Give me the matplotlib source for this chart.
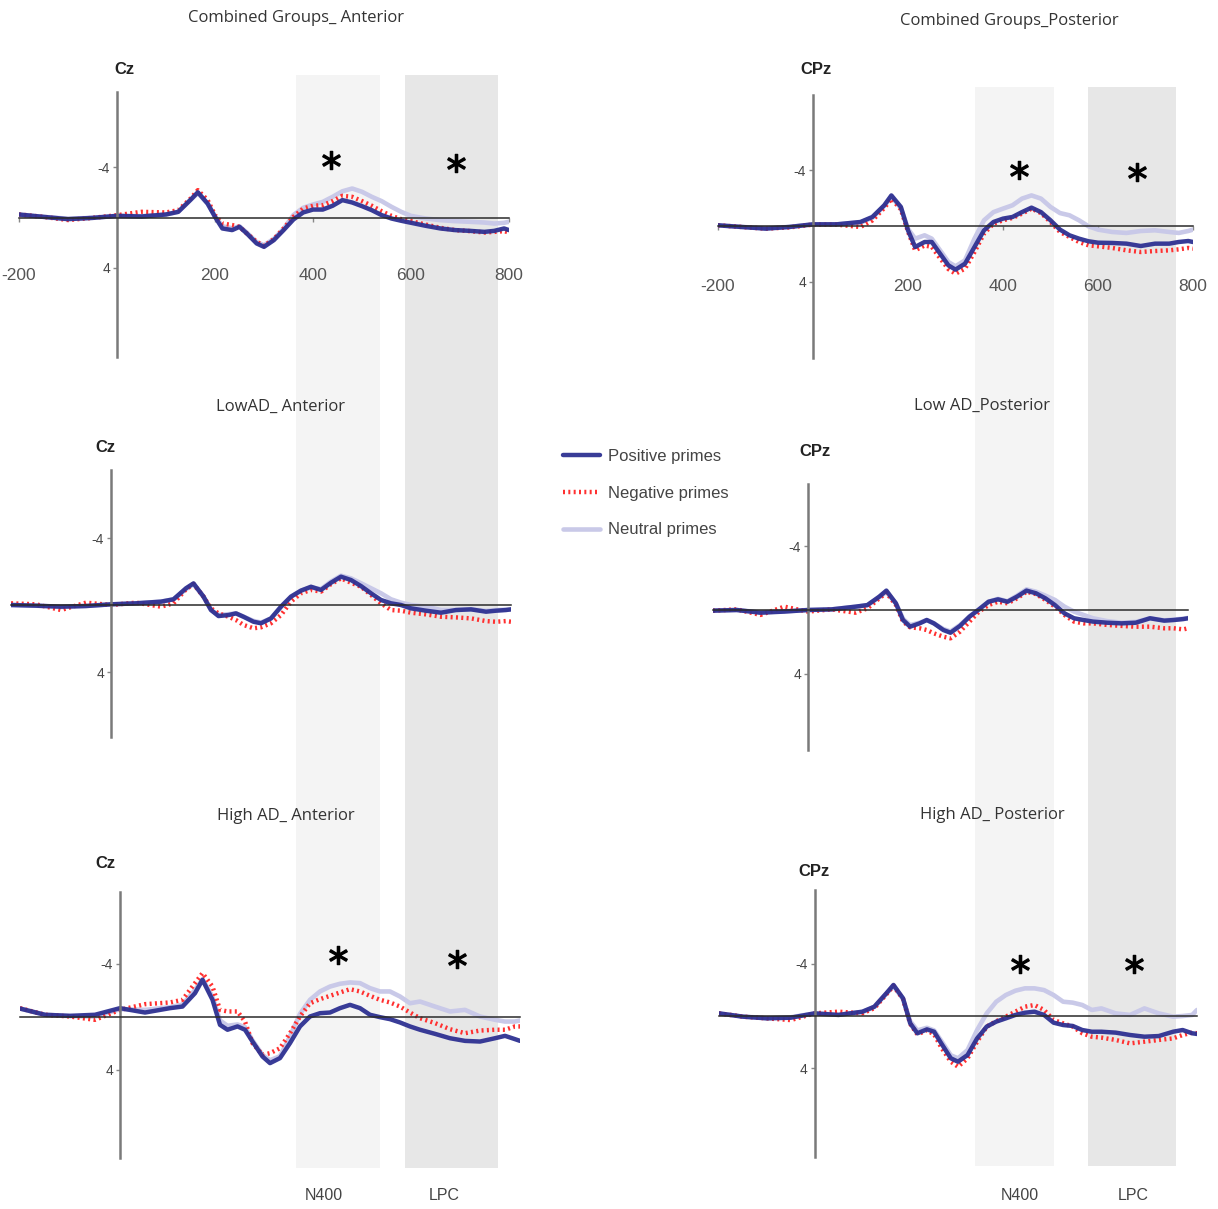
import matplotlib
matplotlib.use('Agg')
from matplotlib import pyplot as plt

# time grid (ms) shared by all panels
t_ms = [-200, -150, -100, -50, 0, 50, 100, 125, 150, 165, 185, 200, 215, 235, 250,
        265, 285, 300, 320, 340, 360, 380, 400, 420, 440, 460, 480, 500, 520, 540,
        560, 580, 600, 630, 660, 690, 720, 750, 770, 790, 800]

# amplitudes in microvolts (negative up)
tl_pos = [-0.24, -0.05, 0.13, 0.03, -0.13, -0.08, -0.24, -0.45, -1.4, -2.0, -1.1, -0.05, 0.87, 1.0, 0.74,
          1.27, 2.06, 2.33, 1.8, 1.0, 0.16, -0.4, -0.63, -0.63, -0.93, -1.38, -1.19, -0.9, -0.58, -0.19,
          0.08, 0.26, 0.42, 0.66, 0.87, 1.0, 1.06, 1.14, 1.06, 0.87, 1.0]
tl_neg = [-0.24, -0.05, 0.2, 0.03, -0.18, -0.45, -0.4, -0.58, -1.5, -2.17, -1.38, -0.19, 0.48, 0.6, 0.74,
          1.27, 1.93, 2.25, 1.72, 0.87, -0.05, -0.71, -0.93, -0.98, -1.3, -1.72, -1.64, -1.3, -0.93, -0.5,
          -0.13, 0.13, 0.29, 0.56, 0.82, 1.0, 1.08, 1.19, 1.14, 1.08, 1.19]
tl_neu = [-0.2, -0.05, 0.1, 0.03, -0.13, -0.1, -0.24, -0.45, -1.4, -1.95, -1.1, -0.1, 0.7, 0.85, 0.7,
          1.2, 1.95, 2.2, 1.7, 0.9, -0.19, -0.77, -1.03, -1.24, -1.64, -2.08, -2.3, -2.04, -1.64, -1.3,
          -0.85, -0.45, -0.13, 0.08, 0.21, 0.29, 0.34, 0.4, 0.48, 0.42, 0.34]

tr_pos = [-0.05, 0.07, 0.19, 0.07, -0.12, -0.12, -0.29, -0.65, -1.49, -2.2, -1.37, 0.31, 1.51, 1.15, 1.15,
          1.87, 2.83, 3.14, 2.71, 1.51, 0.31, -0.29, -0.53, -0.65, -1.0, -1.32, -1.0, -0.41, 0.26, 0.67,
          0.91, 1.1, 1.2, 1.22, 1.27, 1.44, 1.27, 1.27, 1.15, 1.08, 1.15]
tr_neg = [-0.05, 0.07, 0.19, 0.1, -0.1, -0.1, 0.07, -0.4, -1.3, -1.96, -1.2, 0.4, 1.75, 1.4, 1.5,
          2.2, 3.1, 3.43, 3.07, 1.87, 0.55, -0.17, -0.41, -0.58, -0.89, -1.25, -0.93, -0.29, 0.43, 0.79,
          1.15, 1.39, 1.46, 1.58, 1.75, 1.87, 1.8, 1.75, 1.68, 1.58, 1.63]
tr_neu = [-0.05, 0.07, 0.15, 0.07, -0.12, -0.12, -0.25, -0.6, -1.45, -2.1, -1.3, 0.2, 0.91, 0.67, 0.91,
          1.63, 2.59, 2.9, 2.47, 0.91, -0.41, -1.0, -1.25, -1.49, -1.97, -2.2, -1.97, -1.37, -0.93, -0.77,
          -0.41, 0.02, 0.26, 0.43, 0.5, 0.36, 0.31, 0.43, 0.5, 0.36, 0.26]

ml_pos = [0, 0.04, 0.1, 0.06, -0.04, -0.1, -0.2, -0.34, -1.0, -1.29, -0.5, 0.3, 0.66, 0.6, 0.5,
          0.7, 1.0, 1.09, 0.8, 0.1, -0.5, -0.86, -1.09, -0.9, -1.33, -1.69, -1.49, -1.13, -0.7, -0.3,
          -0.1, 0, 0.2, 0.34, 0.46, 0.3, 0.26, 0.4, 0.34, 0.3, 0.26]
ml_neg = [-0.1, -0.04, 0.3, -0.14, 0, -0.14, 0.1, -0.1, -0.94, -1.25, -0.5, 0.2, 0.5, 0.7, 0.9,
          1.19, 1.39, 1.33, 1.09, 0.6, -0.2, -0.7, -0.9, -0.8, -1.25, -1.59, -1.33, -1.09, -0.6, -0.1,
          0.3, 0.34, 0.46, 0.56, 0.7, 0.74, 0.8, 0.96, 1.0, 0.96, 1.0]
ml_neu = [0, 0.04, 0.12, 0.06, -0.04, -0.1, -0.2, -0.34, -0.95, -1.25, -0.5, 0.3, 0.6, 0.55, 0.5,
          0.7, 0.95, 1.05, 0.8, 0.1, -0.5, -0.86, -1.05, -0.95, -1.4, -1.75, -1.59, -1.3, -1.0, -0.7,
          -0.34, -0.14, 0, 0.1, 0.3, 0.3, 0.26, 0.35, 0.3, 0.28, 0.26]

mr_pos = [0.04, 0, 0.17, 0.1, 0, -0.04, -0.21, -0.31, -0.84, -1.22, -0.42, 0.63, 1.05, 0.84, 0.63,
          0.84, 1.26, 1.43, 1.0, 0.42, -0.04, -0.52, -0.67, -0.52, -0.84, -1.22, -1.05, -0.73, -0.31, 0.21,
          0.52, 0.63, 0.73, 0.8, 0.84, 0.8, 0.52, 0.67, 0.63, 0.57, 0.52]
mr_neg = [0.04, -0.04, 0.31, -0.21, 0.1, -0.04, 0.17, -0.1, -0.73, -1.09, -0.31, 0.73, 1.09, 1.15, 1.26,
          1.47, 1.68, 1.78, 1.36, 0.73, 0.1, -0.31, -0.52, -0.42, -0.73, -1.15, -1.0, -0.63, -0.21, 0.31,
          0.73, 0.84, 0.84, 0.94, 1.0, 1.05, 1.05, 1.15, 1.15, 1.22, 1.15]
mr_neu = [0.04, 0, 0.15, 0.08, 0, -0.04, -0.2, -0.3, -0.8, -1.15, -0.42, 0.55, 0.95, 0.8, 0.63,
          0.84, 1.2, 1.35, 0.95, 0.4, -0.04, -0.52, -0.7, -0.55, -0.9, -1.3, -1.15, -0.9, -0.63, -0.21,
          0.1, 0.31, 0.52, 0.7, 0.8, 0.75, 0.52, 0.65, 0.6, 0.55, 0.5]

bl_pos = [-0.6, -0.13, -0.05, -0.13, -0.63, -0.3, -0.63, -0.75, -1.76, -2.77, -1.26, 0.63, 1.0, 0.75, 1.0,
          1.89, 3.02, 3.52, 3.14, 2.01, 0.75, 0, -0.25, -0.3, -0.63, -0.88, -0.63, -0.13, 0.05, 0.2,
          0.45, 0.75, 1.0, 1.31, 1.64, 1.84, 1.89, 1.64, 1.46, 1.71, 1.84]
bl_neg = [-0.63, -0.13, 0, 0.25, -0.5, -0.93, -1.06, -1.26, -2.52, -3.27, -2.26, -0.5, -0.38, -0.38, 0.38,
          2.01, 2.89, 2.77, 2.39, 1.26, 0, -1.0, -1.31, -1.56, -1.81, -2.06, -1.89, -1.56, -1.26, -1.06,
          -0.75, -0.3, 0.13, 0.5, 0.96, 1.26, 1.06, 1.0, 1.0, 0.75, 0.75]
bl_neu = [-0.6, -0.13, -0.03, 0, -0.55, -0.5, -0.7, -0.9, -2.0, -2.8, -1.5, 0.3, 0.7, 0.6, 0.8,
          1.8, 2.9, 3.3, 3.0, 1.5, -0.2, -1.26, -1.89, -2.26, -2.47, -2.57, -2.52, -2.14, -1.89, -1.89,
          -1.51, -1.0, -1.13, -0.75, -0.38, -0.5, 0, 0.25, 0.38, 0.38, 0.3]

br_pos = [-0.2, 0.05, 0.18, 0.13, -0.2, -0.08, -0.33, -0.71, -1.73, -2.37, -1.35, 0.56, 1.32, 1.02, 1.2,
          2.09, 3.23, 3.49, 2.98, 1.71, 0.81, 0.43, 0.18, -0.08, -0.25, -0.33, -0.08, 0.51, 0.69, 0.76,
          1.07, 1.2, 1.2, 1.27, 1.45, 1.58, 1.53, 1.2, 1.07, 1.32, 1.37]
br_neg = [-0.2, 0.05, 0.18, 0.31, -0.2, -0.33, -0.2, -0.6, -1.65, -2.3, -1.3, 0.6, 1.4, 1.1, 1.4,
          2.4, 3.49, 3.87, 3.23, 1.96, 0.81, 0.4, 0.05, -0.33, -0.71, -0.84, -0.46, 0.31, 0.56, 0.81,
          1.32, 1.58, 1.65, 1.83, 2.09, 1.96, 1.83, 1.71, 1.45, 1.27, 1.32]
br_neu = [-0.2, 0.05, 0.15, 0.1, -0.2, -0.1, -0.3, -0.7, -1.7, -2.3, -1.3, 0.4, 1.1, 0.9, 1.1,
          1.9, 3.0, 3.23, 2.6, 1.07, -0.2, -1.09, -1.6, -1.93, -2.11, -2.11, -1.98, -1.6, -1.09, -1.02,
          -0.84, -0.46, -0.58, -0.2, -0.08, -0.58, -0.2, 0.05, 0, -0.08, -0.46]

# analysis windows (ms) per column
left_windows = [(365, 537), (588, 778)]
right_windows = [(341, 507), (579, 764)]
window_names = ['N400', 'LPC']

conditions = ['Positive primes', 'Negative primes', 'Neutral primes']
x_ticks = [-200, 200, 400, 600, 800]
y_ticks = [-4, 4]

W, H = 1218, 1209
fig = plt.figure(figsize=(W / 100, H / 100), dpi=100)

blue = '#2e3192'
red = '#ff3030'
lav = '#c9c9e8'


def px_axes(left, right, top, bottom):
    return fig.add_axes([left / W, 1 - bottom / H, (right - left) / W, (bottom - top) / H])


def band_column(left, right, top, bottom, windows):
    ax = px_axes(left, right, top, bottom)
    ax.set_xlim(-200, 800)
    ax.axis('off')
    ax.axvspan(*windows[0], color='#f4f4f4', lw=0)
    ax.axvspan(*windows[1], color='#e7e7e7', lw=0)


band_column(19, 509, 75, 1168, left_windows)
band_column(718, 1193, 87, 1166, right_windows)


def panel(geom, pos, neg, neu, stars, top_row, xpad):
    left, right, top, bottom, zero, scale = geom
    ax = px_axes(left, right, top, bottom)
    ax.patch.set_alpha(0)
    ax.plot(t_ms, neu, color=lav, lw=3.3, solid_capstyle='round', solid_joinstyle='round',
            label=conditions[2], zorder=2)
    ax.plot(t_ms, neg, color=red, lw=3.2, ls=(0, (0.45, 0.75)), label=conditions[1], zorder=2)
    ax.plot(t_ms, pos, color=blue, lw=3.2, alpha=0.95, solid_capstyle='round',
            solid_joinstyle='round', label=conditions[0], zorder=2)
    ax.set_xlim(-200, 800)
    ax.set_ylim((bottom - zero) / scale, -(zero - top) / scale)
    for s in ['top', 'right']:
        ax.spines[s].set_visible(False)
    ax.spines['left'].set_position(('data', 0))
    ax.spines['bottom'].set_position(('data', 0))
    ax.spines['left'].set_color('#7a7a7a')
    ax.spines['left'].set_linewidth(1.8)
    ax.spines['bottom'].set_color('#2a2a2a')
    ax.spines['bottom'].set_linewidth(1.1)
    ax.spines['bottom'].set_zorder(3)
    ax.set_yticks(y_ticks)
    ax.set_yticklabels([str(v) for v in y_ticks])
    ax.tick_params(axis='y', length=3, width=1, color='#888', labelsize=10,
                   labelcolor='#444', pad=2)
    for lab in ax.get_yticklabels():
        lab.set_family('Liberation Sans')
    if top_row:
        ax.set_xticks(x_ticks)
        ax.set_xticklabels([str(v) for v in x_ticks])
        ax.tick_params(axis='x', length=3, width=1, color='#888', labelsize=12.5,
                       labelcolor='#555', pad=xpad)
        for lab in ax.get_xticklabels():
            lab.set_family('Liberation Sans')
    else:
        ax.set_xticks([])
    for sx, sy in stars:
        ax.plot(sx, sy, marker='$*$', ms=13, color='black', zorder=4)
    return ax


ax_tl = panel((19, 509, 92, 357, 217.5, 12.6), tl_pos, tl_neg, tl_neu,
              [(437, -4.56), (692, -4.3)], True, 33)
ax_tr = panel((718, 1193, 95, 358, 226, 13.9), tr_pos, tr_neg, tr_neu,
              [(434, -4.0), (682, -3.9)], True, 35)
ax_ml = panel((11, 511, 470, 737, 605, 16.75), ml_pos, ml_neg, ml_neu, [], False, 0)
ax_mr = panel((713, 1188, 484, 750, 610, 15.9), mr_pos, mr_neg, mr_neu, [], False, 0)
ax_bl = panel((20, 520, 892, 1158, 1016.5, 13.25), bl_pos, bl_neg, bl_neu,
              [(436, -4.64), (674, -4.34)], False, 0)
ax_br = panel((719, 1197, 890, 1157, 1016, 13.1), br_pos, br_neg, br_neu,
              [(429, -3.97), (669, -3.97)], False, 0)


def ftext(x, y, s, **kw):
    fig.text(x / W, 1 - y / H, s, ha='center', va='center', **kw)


title_kw = dict(fontsize=12, color='#333333', family='Open Sans')
ftext(296, 18, 'Combined Groups_ Anterior', **title_kw)
ftext(1009, 21, 'Combined Groups_Posterior', **title_kw)
ftext(280, 407, 'LowAD_ Anterior', **title_kw)
ftext(982, 406, 'Low AD_Posterior', **title_kw)
ftext(286, 816, 'High AD_ Anterior', **title_kw)
ftext(992, 815, 'High AD_ Posterior', **title_kw)

ch_kw = dict(fontsize=12, fontweight='bold', color='#222222', family='Liberation Sans')
ftext(124, 70, 'Cz', **ch_kw)
ftext(816, 70, 'CPz', **ch_kw)
ftext(105, 447, 'Cz', **ch_kw)
ftext(815, 452, 'CPz', **ch_kw)
ftext(105, 864, 'Cz', **ch_kw)
ftext(814, 871, 'CPz', **ch_kw)

win_kw = dict(fontsize=11.5, color='#444444', family='Liberation Sans')
ftext(324, 1196, window_names[0], **win_kw)
ftext(444, 1196, window_names[1], **win_kw)
ftext(1020, 1196, window_names[0], **win_kw)
ftext(1133, 1196, window_names[1], **win_kw)

handles, labels = ax_tl.get_legend_handles_labels()
order = [2, 1, 0]
leg = fig.legend([handles[i] for i in order], [labels[i] for i in order],
                 loc='upper left', bbox_to_anchor=(563 / W, 1 - 449 / H),
                 frameon=False, borderpad=0, borderaxespad=0, handlelength=2.2,
                 handletextpad=0.5, labelspacing=1.3,
                 prop={'family': 'Liberation Sans', 'size': 12})
for txt in leg.get_texts():
    txt.set_color('#444444')

fig.savefig('out.png', dpi=100)
